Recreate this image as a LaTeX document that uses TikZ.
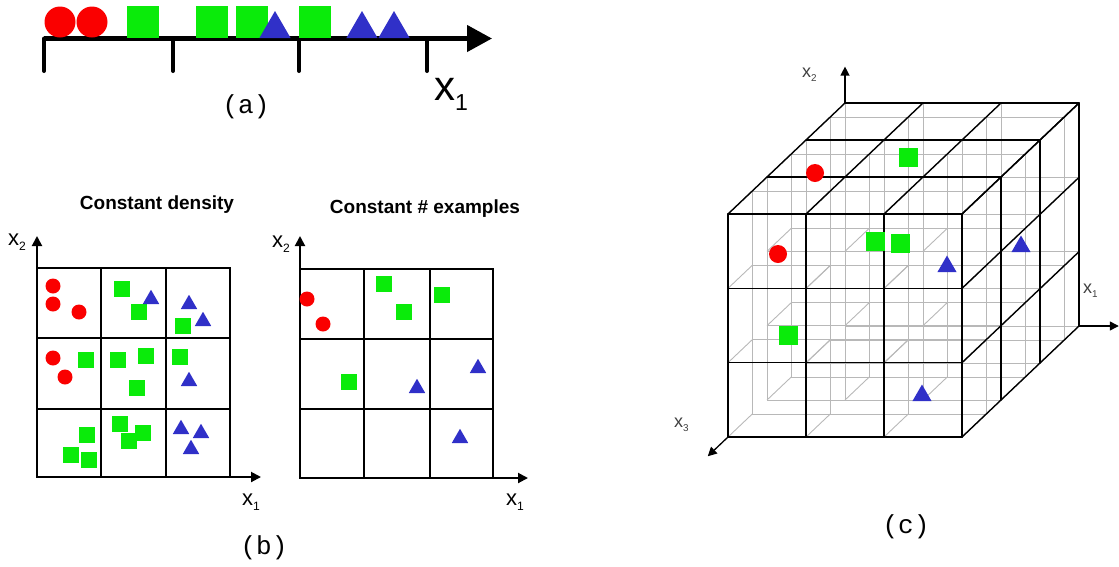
\documentclass[tikz,border=0pt]{standalone}
\usepackage{fontspec}
\setmainfont{Liberation Sans}
\newfontfamily\panelfont{Liberation Mono}
\usetikzlibrary{shapes.geometric,arrows.meta}
\definecolor{ptred}{RGB}{250,0,0}
\definecolor{ptgreen}{RGB}{10,235,10}
\definecolor{ptblue}{RGB}{48,48,200}
\newcommand{\xsub}[1]{x\raisebox{-0.25em}{\scalebox{0.55}{#1}}}
\tikzset{
  ptdot/.style={circle,fill=ptred,inner sep=0pt,outer sep=0pt,minimum size=#1},
  ptsq/.style={rectangle,fill=ptgreen,inner sep=0pt,outer sep=0pt,minimum size=#1},
  pttri/.style={regular polygon,regular polygon sides=3,fill=ptblue,inner sep=0pt,outer sep=0pt,minimum size=#1,anchor=south},
  cellbox/.style={line width=2pt},
  axisb/.style={line width=2pt,-{Triangle[length=10pt,width=10pt]}},
  hidline/.style={line width=0.9pt,black!28},
  cubeline/.style={line width=1.4pt,line cap=round},
  axisc/.style={line width=1.3pt,-{Triangle[length=9pt,width=9pt]}},
  panellbl/.style={font=\panelfont\fontsize{26}{28}\selectfont,anchor=base,inner sep=0pt},
  paneltitle/.style={font=\fontsize{19}{21}\selectfont\bfseries,anchor=base,inner sep=0pt},
  axlbl/.style={font=\fontsize{22}{24}\selectfont,anchor=base west,inner sep=0pt},
  cubelbl/.style={font=\fontsize{18}{20}\selectfont,text=black!75,anchor=base west,inner sep=0pt}
}
\begin{document}
\begin{tikzpicture}[x=1pt,y=-1pt]
\useasboundingbox (0,0) rectangle (1119,566);

% (a) one dimension
\coordinate (aO) at (44,38.5);
\coordinate (aT) at (492,38.5);
\draw[line width=4.5pt,-{Triangle[length=25pt,width=26pt]}] (aO) -- (aT);
\draw[line width=4pt,line cap=round] (44,38.5) -- (44,71) (173,38.5) -- (173,71) (299,38.5) -- (299,71) (427,38.5) -- (427,71);
\node[ptdot=31pt] (ac1) at (60,22) {};
\node[ptdot=31pt] (ac2) at (92,22) {};
\node[ptsq=32pt] (as1) at (143,22) {};
\node[ptsq=32pt] (as2) at (212,22) {};
\node[ptsq=32pt] (as3) at (252,22) {};
\node[ptsq=32pt] (as4) at (315,22) {};
\node[pttri=36pt] (at1) at (275,38) {};
\node[pttri=36pt] (at2) at (362,38) {};
\node[pttri=36pt] (at3) at (394,38) {};
\node[axlbl,font=\fontsize{42}{44}\selectfont] (ax1) at (434,100) {\xsub{1}};
\node[panellbl] (alab) at (246,113) {(a)};

% (b) constant density
\draw[cellbox] (37,268) rectangle (230,477);
\draw[cellbox] (101,268) -- (101,477) (166,268) -- (166,477) (37,338) -- (230,338) (37,409) -- (230,409);
\coordinate (bO) at (37,477);
\draw[axisb] (bO) -- (37,236);
\draw[axisb] (bO) -- (261,477);
\node[paneltitle] (bt1) at (157,209) {Constant density};
\node[axlbl] (bx2) at (8,245) {\xsub{2}};
\node[axlbl] (bx1) at (242,505) {\xsub{1}};
\node[ptdot=15pt] (bc1) at (53,286) {}; \node[ptdot=15pt] (bc2) at (53,304) {};
\node[ptdot=15pt] (bc3) at (79,312) {}; \node[ptdot=15pt] (bc4) at (53,358) {};
\node[ptdot=15pt] (bc5) at (65,377) {};
\node[ptsq=16pt] (bs1) at (122,289) {}; \node[ptsq=16pt] (bs2) at (139,312) {};
\node[ptsq=16pt] (bs3) at (183,326) {}; \node[ptsq=16pt] (bs4) at (86,360) {};
\node[ptsq=16pt] (bs5) at (118,360) {}; \node[ptsq=16pt] (bs6) at (146,356) {};
\node[ptsq=16pt] (bs7) at (137,388) {}; \node[ptsq=16pt] (bs8) at (180,357) {};
\node[ptsq=16pt] (bs9) at (87,435) {}; \node[ptsq=16pt] (bs10) at (71,455) {};
\node[ptsq=16pt] (bs11) at (89,460) {}; \node[ptsq=16pt] (bs12) at (120,424) {};
\node[ptsq=16pt] (bs13) at (143,433) {}; \node[ptsq=16pt] (bs14) at (129,441) {};
\node[pttri=19pt] (bt1a) at (151,304) {}; \node[pttri=19pt] (bt2a) at (189,309) {};
\node[pttri=19pt] (bt3a) at (203,326) {}; \node[pttri=19pt] (bt4a) at (189,386) {};
\node[pttri=19pt] (bt5a) at (181,434) {}; \node[pttri=19pt] (bt6a) at (201,438) {};
\node[pttri=19pt] (bt7a) at (191,454) {};

% (b) constant number of examples
\draw[cellbox] (300,269) rectangle (493,478);
\draw[cellbox] (364,269) -- (364,478) (430,269) -- (430,478) (300,339) -- (493,339) (300,409) -- (493,409);
\coordinate (bR) at (300,478);
\draw[axisb] (bR) -- (300,236);
\draw[axisb] (bR) -- (528,478);
\node[paneltitle] (bt2) at (425,213) {Constant \# examples};
\node[axlbl] (rx2) at (272,247) {\xsub{2}};
\node[axlbl] (rx1) at (506,505) {\xsub{1}};
\node[ptdot=15pt] (rc1) at (307,299) {}; \node[ptdot=15pt] (rc2) at (323,324) {};
\node[ptsq=16pt] (rs1) at (384,284) {}; \node[ptsq=16pt] (rs2) at (404,312) {};
\node[ptsq=16pt] (rs3) at (442,295) {}; \node[ptsq=16pt] (rs4) at (349,382) {};
\node[pttri=19pt] (rt1) at (478,373) {}; \node[pttri=19pt] (rt2) at (417,393) {};
\node[pttri=19pt] (rt3) at (460,443) {};
\node[panellbl] (blab) at (264,554) {(b)};

% (c) three dimensions
\begin{scope}[shift={(728,437)},x={(78pt,0pt)},y={(0pt,74.33pt)},z={(39pt,37pt)}]
  % hidden lattice lines
  \foreach \k in {0,0.62,1,1.62,2,2.62,3}{
    \foreach \n in {0,1,2,3}{
      \draw[hidline] (0,\n,\k) -- (3,\n,\k);
      \draw[hidline] (\n,0,\k) -- (\n,3,\k);
    }
  }
  \foreach \i in {0,1,2,3}{
    \foreach \j in {0,1,2,3}{
      \foreach \k in {0,1,2}{
        \draw[hidline] (\i,\j,\k) -- (\i,\j,\k+0.62);
      }
    }
  }
  % visible faces
  \foreach \n in {0,1,2,3}{
    \draw[cubeline] (0,\n,0) -- (3,\n,0);
    \draw[cubeline] (\n,0,0) -- (\n,3,0);
    \draw[cubeline] (0,3,\n) -- (3,3,\n);
    \draw[cubeline] (\n,3,0) -- (\n,3,3);
    \draw[cubeline] (3,0,\n) -- (3,3,\n);
    \draw[cubeline] (3,\n,0) -- (3,\n,3);
  }
  \coordinate (c2o) at (0,3,3);
  \coordinate (c2t) at (0,3.49,3);
  \coordinate (c1o) at (3,0,3);
  \coordinate (c1t) at (3.51,0,3);
  \coordinate (c3o) at (0,0,0);
  \coordinate (c3t) at (0,0,-0.52);
\end{scope}
\draw[axisc] (c2o) -- (c2t);
\draw[axisc] (c1o) -- (c1t);
\draw[axisc] (c3o) -- (c3t);
\node[cubelbl] (cx2) at (802,77) {\xsub{2}};
\node[cubelbl] (cx1) at (1083,293) {\xsub{1}};
\node[cubelbl] (cx3) at (674,427) {\xsub{3}};
\node[ptdot=18pt] (cc1) at (815,173) {};
\node[ptdot=18pt] (cc2) at (778,254) {};
\node[ptsq=19pt] (cs1) at (908,157) {};
\node[ptsq=19pt] (cs2) at (875,241) {};
\node[ptsq=19pt] (cs3) at (900,243) {};
\node[ptsq=19pt] (cs4) at (788,335) {};
\node[pttri=22pt] (ct1) at (947,272) {};
\node[pttri=22pt] (ct2) at (1021,252) {};
\node[pttri=22pt] (ct3) at (922,401) {};
\node[panellbl] (clab) at (906,533) {(c)};
\end{tikzpicture}
\end{document}
